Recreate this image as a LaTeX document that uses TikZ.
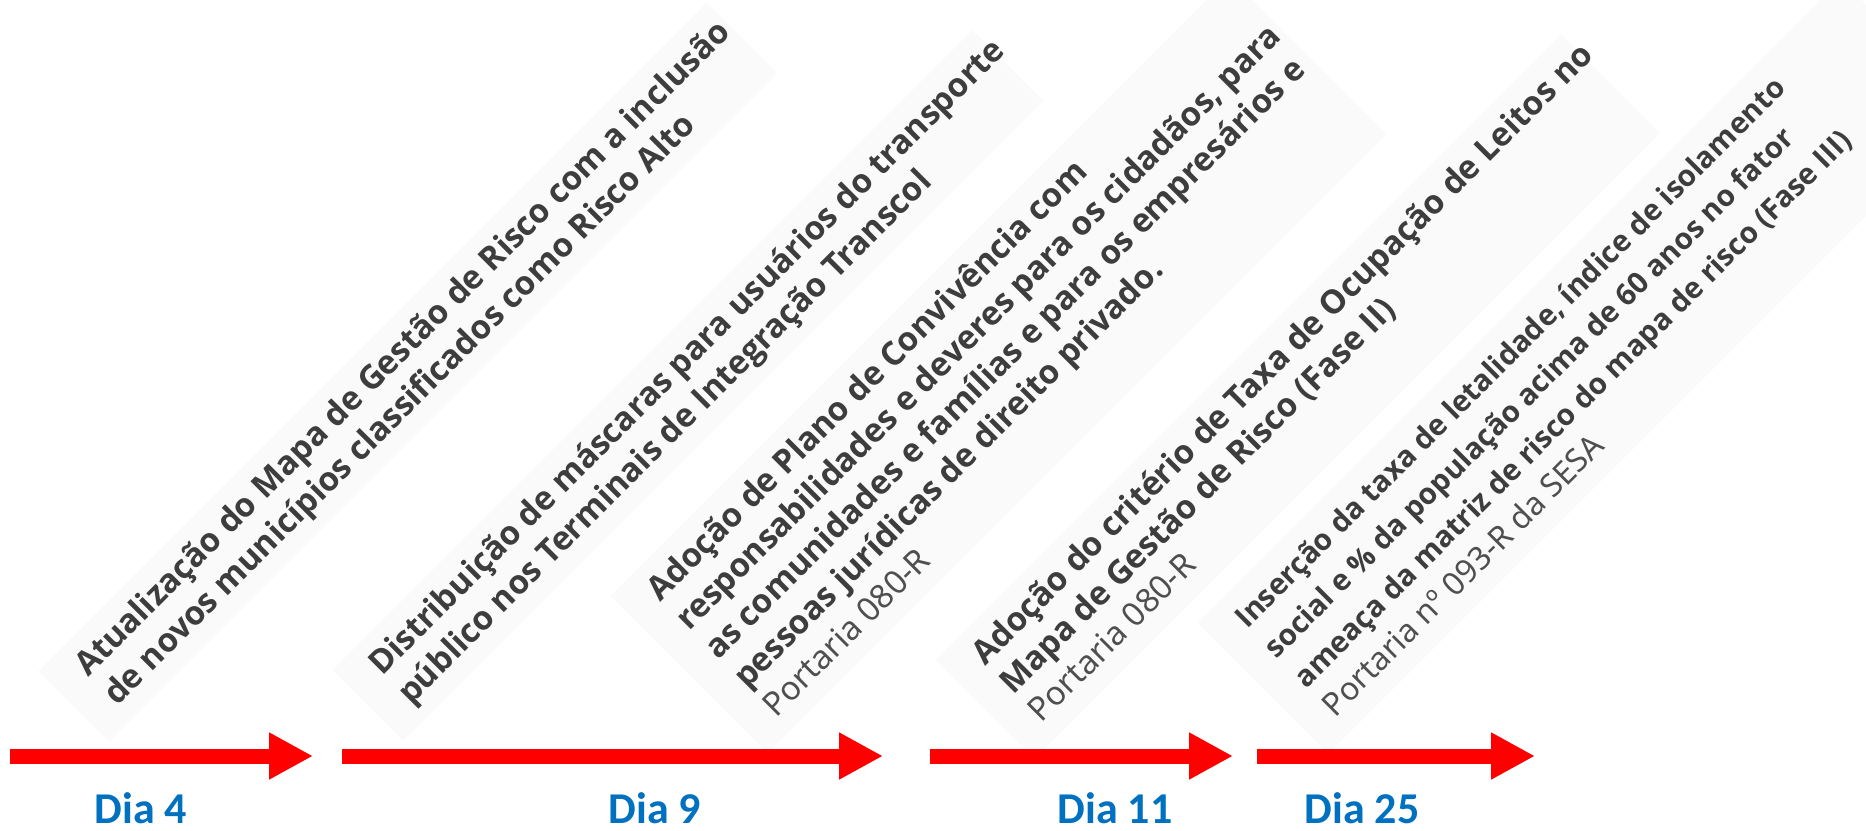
\documentclass[tikz,border=0pt]{standalone}
\usepackage{fontspec}
\newfontfamily\evsans{Open Sans}
\newfontfamily\porsans{Noto Sans}
\newfontfamily\diasans{Carlito}
\usetikzlibrary{arrows.meta}

\definecolor{evgray}{HTML}{3D3D3D}
\definecolor{porgray}{HTML}{4F4F4F}
\definecolor{diablue}{HTML}{0070C0}
\definecolor{bandgray}{HTML}{FAFAFA}

\tikzset{
  event/.style={anchor=base west,inner sep=0pt,text=evgray,
    font=\evsans\bfseries\fontsize{33}{40}\selectfont},
  portaria/.style={event,text=porgray,font=\porsans\fontsize{33}{40}\selectfont},
  eventsm/.style={event,font=\evsans\bfseries\fontsize{29.5}{36}\selectfont},
  portariasm/.style={portaria,font=\porsans\fontsize{32}{38}\selectfont},
  dia/.style={anchor=base,text=diablue,font=\diasans\bfseries\fontsize{44}{50}\selectfont},
  redarrow/.style={draw=red,line width=15pt,-{Triangle[length=44pt,width=44pt]}},
  band/.style={fill=bandgray}
}

\begin{document}
\begin{tikzpicture}[x=1pt,y=-1pt]
  \useasboundingbox (0,0) rectangle (1866,830);

  % dia 4
  \begin{scope}[shift={(88,678)},rotate=45,transform shape]
    \fill[band] (-30,-40) rectangle (915,60);
    \node[event] (ev1a) at (0,0) {Atualização do Mapa de Gestão de Risco com a inclusão};
    \node[event] (ev1b) at (0,41) {de novos municípios classificados como Risco Alto};
  \end{scope}

  % dia 9
  \begin{scope}[shift={(382,677)},rotate=45,transform shape]
    \fill[band] (-30,-40) rectangle (875,60);
    \node[event] (ev2a) at (0,0) {Distribuição de máscaras para usuários do transporte};
    \node[event] (ev2b) at (0,41) {público nos Terminais de Integração Transcol};
  \end{scope}

  % dia 11 (antes)
  \begin{scope}[shift={(660,603)},rotate=45,transform shape]
    \fill[band] (-30,-40) rectangle (845,182);
    \node[event] (ev3a) at (0,0) {Adoção de Plano de Convivência com};
    \node[event] (ev3b) at (0,41) {responsabilidades e deveres para os cidadãos, para};
    \node[event] (ev3c) at (0,82) {as comunidades e famílias e para os empresários e};
    \node[event] (ev3d) at (0,123) {pessoas jurídicas de direito privado.};
    \node[portaria] (ev3e) at (0,164) {Portaria 080-R};
  \end{scope}

  % dia 11
  \begin{scope}[shift={(985,667)},rotate=45,transform shape]
    \fill[band] (-30,-40) rectangle (855,100);
    \node[event] (ev4a) at (0,0) {Adoção do critério de Taxa de Ocupação de Leitos no};
    \node[event] (ev4b) at (0,40) {Mapa de Gestão de Risco (Fase II)};
    \node[portaria] (ev4c) at (0,80) {Portaria 080-R};
  \end{scope}

  % dia 25
  \begin{scope}[shift={(1247,630)},rotate=45,transform shape]
    \fill[band] (-30,-40) rectangle (880,145);
    \node[eventsm] (ev5a) at (0,0) {Inserção da taxa de letalidade, índice de isolamento};
    \node[eventsm] (ev5b) at (0,42) {social e \% da população acima de 60 anos no fator};
    \node[eventsm] (ev5c) at (0,84) {ameaça da matriz de risco do mapa de risco (Fase III)};
    \node[portariasm] (ev5d) at (0,125) {Portaria nº 093-R da SESA};
  \end{scope}

  % linha do tempo
  \coordinate (s1) at (10,756);   \coordinate (e1) at (313,756);
  \coordinate (s2) at (342,756);  \coordinate (e2) at (883,756);
  \coordinate (s3) at (930,756);  \coordinate (e3) at (1233,756);
  \coordinate (s4) at (1257,756); \coordinate (e4) at (1535,756);
  \draw[redarrow] (s1) -- (e1);
  \draw[redarrow] (s2) -- (e2);
  \draw[redarrow] (s3) -- (e3);
  \draw[redarrow] (s4) -- (e4);

  \node[dia] (d4) at (141,823) {Dia 4};
  \node[dia] (d9) at (655,823) {Dia 9};
  \node[dia] (d11) at (1115,823) {Dia 11};
  \node[dia] (d25) at (1362,823) {Dia 25};
\end{tikzpicture}
\end{document}
